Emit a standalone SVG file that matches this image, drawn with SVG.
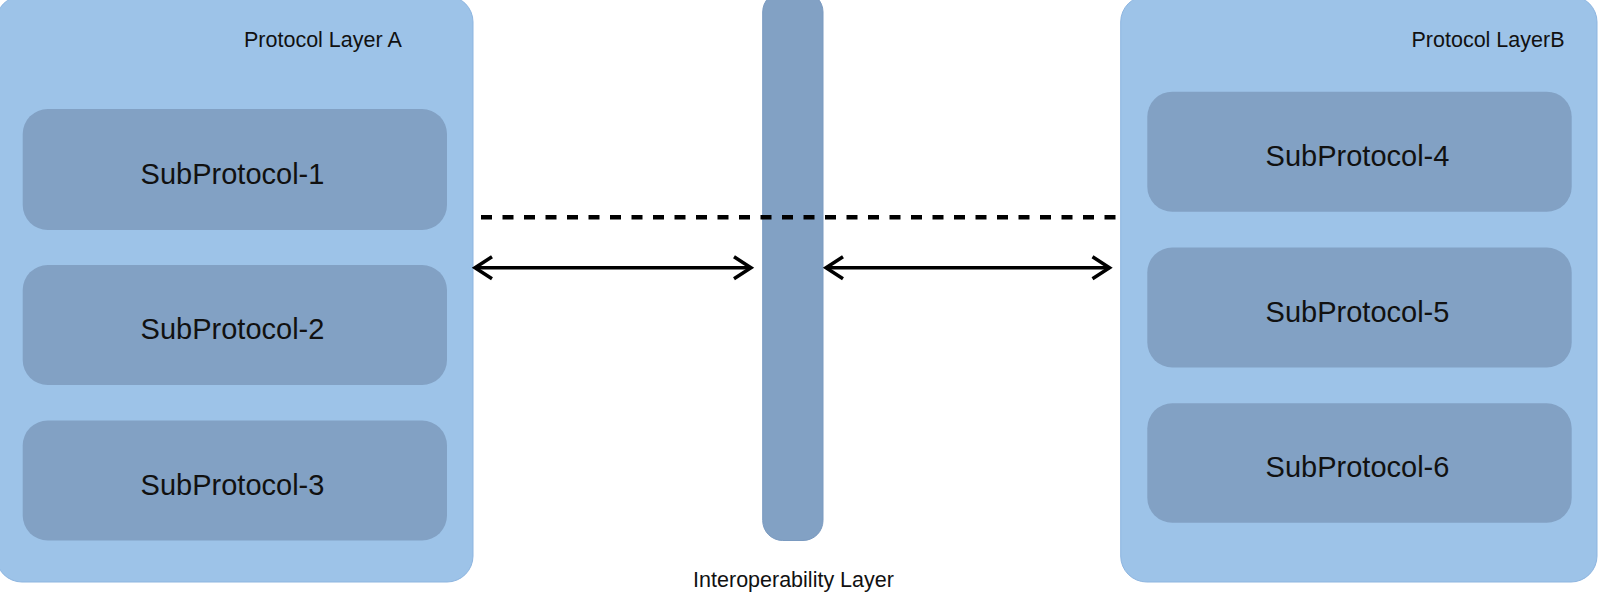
<svg xmlns="http://www.w3.org/2000/svg" width="1600" height="592" viewBox="0 0 1600 592">
  <style>
    .layer { fill: #9DC3E8; stroke: #8DB5E0; stroke-width: 1; }
    .sub { fill: #82A1C4; }
    .bar { fill: #82A1C4; stroke: #7A9AC0; stroke-width: 1; }
    .title { font-family: "Liberation Sans", Arial, sans-serif; font-size: 21.5px; fill: #111; }
    .label { font-family: "Liberation Sans", Arial, sans-serif; font-size: 29px; fill: #111; text-anchor: middle; }
    .arrow { stroke: #000; stroke-width: 3.5; fill: none; marker-start: url(#head); marker-end: url(#head); }
    .dash { stroke: #000; stroke-width: 4.5; fill: none; stroke-dasharray: 11 10.5; }
  </style>
  <defs>
    <marker id="head" markerUnits="userSpaceOnUse" viewBox="-22 -14 26 28" markerWidth="26" markerHeight="28" refX="0" refY="0" orient="auto-start-reverse">
      <path d="M-17,-11 L0,0 L-17,11" fill="none" stroke="#000" stroke-width="3.5" stroke-linejoin="miter" stroke-linecap="butt"/>
    </marker>
  </defs>
  <rect width="1600" height="592" fill="#fff"/>

  <g id="layer-a">
    <rect class="layer" x="-4" y="-4" width="477" height="586" rx="26"/>
    <text class="title" x="244" y="47">Protocol Layer A</text>
  </g>
  <g id="sub-1">
    <rect class="sub" x="22.7" y="109" width="424.3" height="121" rx="25"/>
    <text class="label" x="232.5" y="183.5">SubProtocol-1</text>
  </g>
  <g id="sub-2">
    <rect class="sub" x="22.7" y="265" width="424.3" height="120" rx="25"/>
    <text class="label" x="232.5" y="339">SubProtocol-2</text>
  </g>
  <g id="sub-3">
    <rect class="sub" x="22.7" y="420.5" width="424.3" height="120" rx="25"/>
    <text class="label" x="232.5" y="494.5">SubProtocol-3</text>
  </g>

  <g id="interop-layer">
    <rect class="bar" x="762.7" y="-8" width="60.3" height="548.5" rx="20"/>
    <text class="title" x="793.5" y="586.5" text-anchor="middle">Interoperability Layer</text>
  </g>

  <g id="layer-b">
    <rect class="layer" x="1120.7" y="-4" width="476.3" height="586" rx="26"/>
    <text class="title" x="1411.5" y="47">Protocol LayerB</text>
  </g>
  <g id="sub-4">
    <rect class="sub" x="1147.3" y="91.7" width="424.4" height="120" rx="25"/>
    <text class="label" x="1357.5" y="166">SubProtocol-4</text>
  </g>
  <g id="sub-5">
    <rect class="sub" x="1147.3" y="247.5" width="424.4" height="120" rx="25"/>
    <text class="label" x="1357.5" y="321.5">SubProtocol-5</text>
  </g>
  <g id="sub-6">
    <rect class="sub" x="1147.3" y="403.3" width="424.4" height="119.4" rx="25"/>
    <text class="label" x="1357.5" y="477.3">SubProtocol-6</text>
  </g>

  <g id="connectors">
    <line class="dash" x1="481" y1="217.3" x2="1116" y2="217.3"/>
    <line class="arrow" x1="475" y1="267.7" x2="751" y2="267.7"/>
    <line class="arrow" x1="826" y1="267.7" x2="1109.5" y2="267.7"/>
  </g>
</svg>
